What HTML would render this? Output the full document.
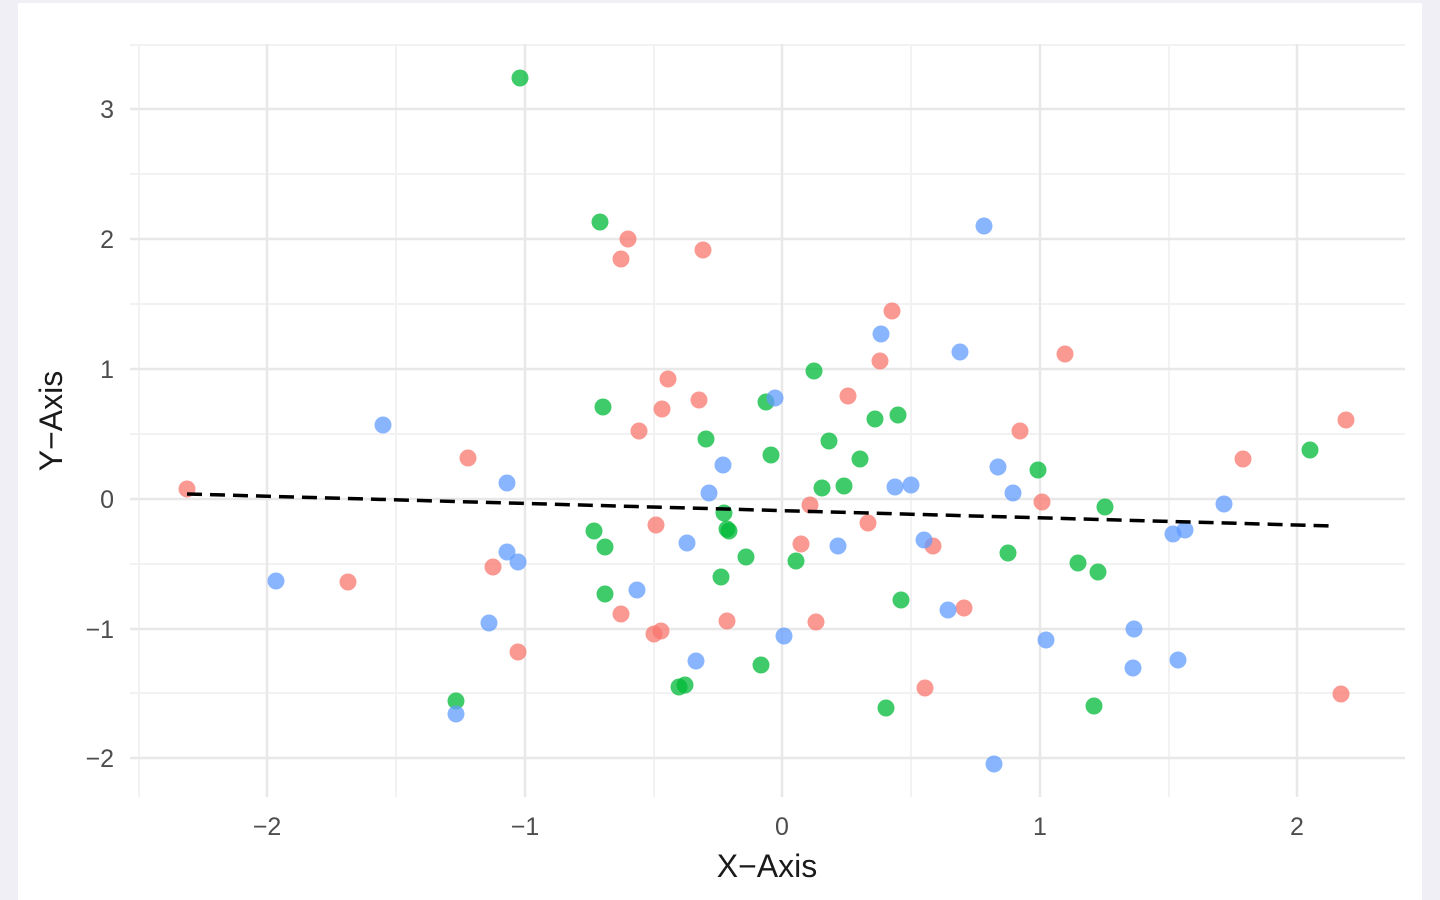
<!DOCTYPE html>
<html><head><meta charset="utf-8"><style>
html,body{margin:0;padding:0;background:#efeff5;}
svg{display:block}
</style></head><body>
<svg width="1440" height="900" xmlns="http://www.w3.org/2000/svg" font-family="Liberation Sans, sans-serif">
<rect x="18" y="3" width="1404" height="897" fill="#fff"/>
<g stroke="#f2f2f2" stroke-width="2">
<line x1="130" x2="1405" y1="174" y2="174"/><line x1="130" x2="1405" y1="304" y2="304"/><line x1="130" x2="1405" y1="434" y2="434"/><line x1="130" x2="1405" y1="564" y2="564"/><line x1="130" x2="1405" y1="693" y2="693"/><line x1="130" x2="1405" y1="45" y2="45"/>
<line y1="44" y2="797" x1="139" x2="139"/><line y1="44" y2="797" x1="396" x2="396"/><line y1="44" y2="797" x1="654" x2="654"/><line y1="44" y2="797" x1="911" x2="911"/><line y1="44" y2="797" x1="1169" x2="1169"/>
</g>
<g stroke="#e8e8e8" stroke-width="2.5">
<line x1="130" x2="1405" y1="109" y2="109"/><line x1="130" x2="1405" y1="239" y2="239"/><line x1="130" x2="1405" y1="369" y2="369"/><line x1="130" x2="1405" y1="499" y2="499"/><line x1="130" x2="1405" y1="629" y2="629"/><line x1="130" x2="1405" y1="758" y2="758"/>
<line y1="44" y2="797" x1="267" x2="267"/><line y1="44" y2="797" x1="525" x2="525"/><line y1="44" y2="797" x1="782" x2="782"/><line y1="44" y2="797" x1="1040" x2="1040"/><line y1="44" y2="797" x1="1297" x2="1297"/>
</g>
<g fill="#00BA38" fill-opacity="0.75">
<circle cx="520" cy="78" r="8.5"/><circle cx="600" cy="222" r="8.5"/><circle cx="603" cy="407" r="8.5"/><circle cx="706" cy="439" r="8.5"/><circle cx="766" cy="402" r="8.5"/><circle cx="771" cy="455" r="8.5"/><circle cx="814" cy="371" r="8.5"/><circle cx="829" cy="441" r="8.5"/><circle cx="860" cy="459" r="8.5"/><circle cx="875" cy="419" r="8.5"/><circle cx="898" cy="415" r="8.5"/><circle cx="844" cy="486" r="8.5"/><circle cx="822" cy="488" r="8.5"/><circle cx="724" cy="513" r="8.5"/><circle cx="727" cy="529" r="8.5"/><circle cx="729" cy="531" r="8.5"/><circle cx="594" cy="531" r="8.5"/><circle cx="605" cy="547" r="8.5"/><circle cx="746" cy="557" r="8.5"/><circle cx="796" cy="561" r="8.5"/><circle cx="721" cy="577" r="8.5"/><circle cx="605" cy="594" r="8.5"/><circle cx="761" cy="665" r="8.5"/><circle cx="679" cy="687" r="8.5"/><circle cx="685" cy="685" r="8.5"/><circle cx="456" cy="701" r="8.5"/><circle cx="886" cy="708" r="8.5"/><circle cx="901" cy="600" r="8.5"/><circle cx="1008" cy="553" r="8.5"/><circle cx="1038" cy="470" r="8.5"/><circle cx="1105" cy="507" r="8.5"/><circle cx="1078" cy="563" r="8.5"/><circle cx="1098" cy="572" r="8.5"/><circle cx="1094" cy="706" r="8.5"/><circle cx="1310" cy="450" r="8.5"/>
</g>
<g fill="#F8766D" fill-opacity="0.75">
<circle cx="187" cy="489" r="8.5"/><circle cx="628" cy="239" r="8.5"/><circle cx="621" cy="259" r="8.5"/><circle cx="703" cy="250" r="8.5"/><circle cx="892" cy="311" r="8.5"/><circle cx="880" cy="361" r="8.5"/><circle cx="1065" cy="354" r="8.5"/><circle cx="668" cy="379" r="8.5"/><circle cx="662" cy="409" r="8.5"/><circle cx="639" cy="431" r="8.5"/><circle cx="699" cy="400" r="8.5"/><circle cx="848" cy="396" r="8.5"/><circle cx="1020" cy="431" r="8.5"/><circle cx="468" cy="458" r="8.5"/><circle cx="1243" cy="459" r="8.5"/><circle cx="1346" cy="420" r="8.5"/><circle cx="1042" cy="502" r="8.5"/><circle cx="810" cy="505" r="8.5"/><circle cx="868" cy="523" r="8.5"/><circle cx="656" cy="525" r="8.5"/><circle cx="801" cy="544" r="8.5"/><circle cx="933" cy="546" r="8.5"/><circle cx="493" cy="567" r="8.5"/><circle cx="348" cy="582" r="8.5"/><circle cx="621" cy="614" r="8.5"/><circle cx="727" cy="621" r="8.5"/><circle cx="816" cy="622" r="8.5"/><circle cx="654" cy="634" r="8.5"/><circle cx="661" cy="631" r="8.5"/><circle cx="964" cy="608" r="8.5"/><circle cx="518" cy="652" r="8.5"/><circle cx="925" cy="688" r="8.5"/><circle cx="1341" cy="694" r="8.5"/>
</g>
<g fill="#619CFF" fill-opacity="0.75">
<circle cx="984" cy="226" r="8.5"/><circle cx="881" cy="334" r="8.5"/><circle cx="960" cy="352" r="8.5"/><circle cx="383" cy="425" r="8.5"/><circle cx="775" cy="398" r="8.5"/><circle cx="723" cy="465" r="8.5"/><circle cx="998" cy="467" r="8.5"/><circle cx="709" cy="493" r="8.5"/><circle cx="507" cy="483" r="8.5"/><circle cx="895" cy="487" r="8.5"/><circle cx="911" cy="485" r="8.5"/><circle cx="1013" cy="493" r="8.5"/><circle cx="1224" cy="504" r="8.5"/><circle cx="1173" cy="534" r="8.5"/><circle cx="1185" cy="530" r="8.5"/><circle cx="687" cy="543" r="8.5"/><circle cx="838" cy="546" r="8.5"/><circle cx="924" cy="540" r="8.5"/><circle cx="507" cy="552" r="8.5"/><circle cx="518" cy="562" r="8.5"/><circle cx="276" cy="581" r="8.5"/><circle cx="637" cy="590" r="8.5"/><circle cx="948" cy="610" r="8.5"/><circle cx="489" cy="623" r="8.5"/><circle cx="784" cy="636" r="8.5"/><circle cx="1046" cy="640" r="8.5"/><circle cx="1134" cy="629" r="8.5"/><circle cx="696" cy="661" r="8.5"/><circle cx="1133" cy="668" r="8.5"/><circle cx="1178" cy="660" r="8.5"/><circle cx="456" cy="714" r="8.5"/><circle cx="994" cy="764" r="8.5"/>
</g>
<line x1="187" y1="494" x2="1333" y2="526" stroke="#000" stroke-width="3.5" stroke-dasharray="15,8"/>
<g fill="#4d4d4d" font-size="25" text-anchor="end">
<text x="114" y="118">3</text><text x="114" y="248">2</text><text x="114" y="378">1</text><text x="114" y="508">0</text><text x="114" y="638">−1</text><text x="114" y="767">−2</text>
</g>
<g fill="#4d4d4d" font-size="25" text-anchor="middle">
<text x="267" y="835">−2</text><text x="525" y="835">−1</text><text x="782" y="835">0</text><text x="1040" y="835">1</text><text x="1297" y="835">2</text>
</g>
<text x="767" y="877" font-size="32" text-anchor="middle" fill="#1a1a1a">X−Axis</text>
<text transform="translate(62,421) rotate(-90)" font-size="32" text-anchor="middle" fill="#1a1a1a">Y−Axis</text>
</svg>
</body></html>
